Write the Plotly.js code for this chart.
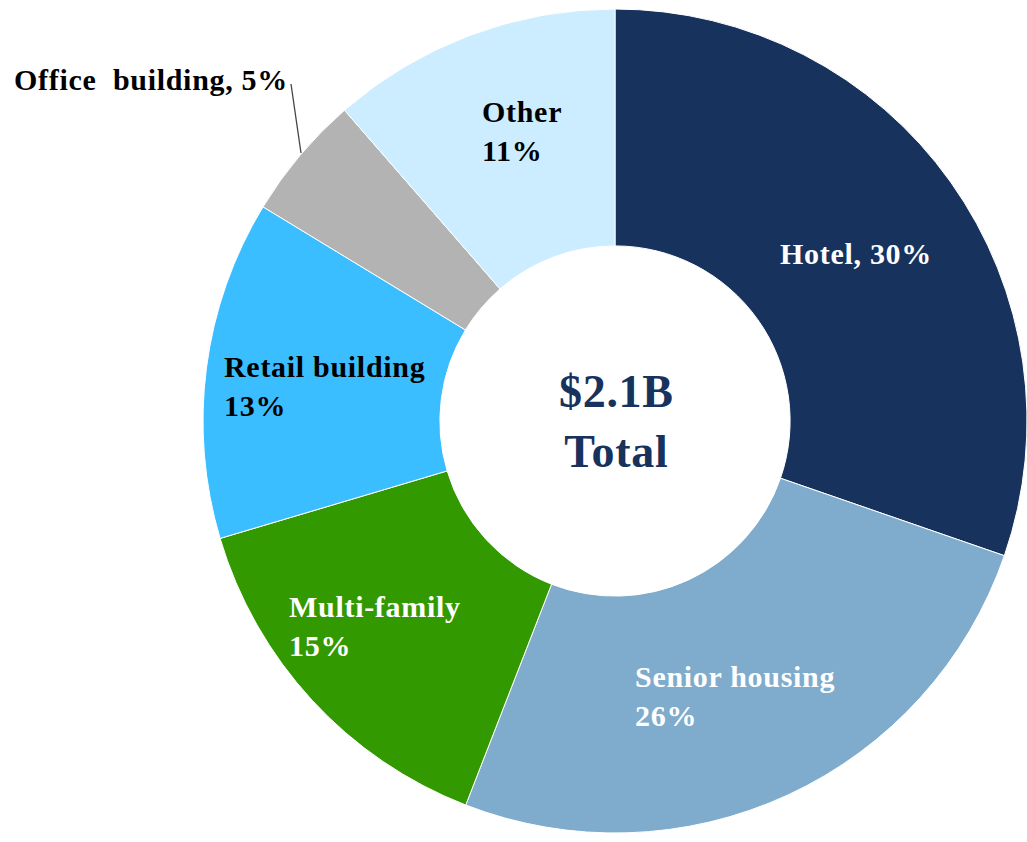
<!DOCTYPE html>
<html>
<head>
<meta charset="utf-8">
<script src="https://cdn.plot.ly/plotly-3.0.1.min.js"></script>
<style>html,body{margin:0;padding:0;background:#fff;}#chart{width:1027px;height:842px;}
.annotation-text{letter-spacing:0.7px;}</style>
</head>
<body>
<div id="chart"></div>
<script>
const categories = ["Hotel", "Senior housing", "Multi-family", "Retail building", "Office building", "Other"];
const shares = [30.3, 25.6, 14.5, 13.3, 4.9, 11.4];
const labelTexts = ["Hotel, 30%", "Senior housing<br>26%", "Multi-family<br>15%", "Retail building<br>13%", "Office  building, 5%", "Other<br>11%"];
const centerText = "$2.1B<br>Total";

const sliceColors = ["#17325C", "#7FACCC", "#339900", "#3BBEFF", "#B3B3B3", "#CCECFF"];
const labelColors = ["#FFFFFF", "#FFFFFF", "#FFFFFF", "#000000", "#000000", "#000000"];
// label anchor positions in pixels (left x, middle y)
const labelPos = [[778, 253], [633, 696], [287, 626], [222, 386], [12, 80], [480, 131]];

const W = 1027, H = 842;
const font = "'Liberation Serif', 'Times New Roman', serif";

const annotations = labelTexts.map((t, i) => ({
  text: "<b>" + t + "</b>",
  x: labelPos[i][0] / W, y: 1 - labelPos[i][1] / H,
  xref: "paper", yref: "paper", xanchor: "left", yanchor: "middle", align: "left",
  showarrow: false,
  font: {family: font, size: 30, color: labelColors[i]}
}));
annotations.push({
  text: "<b>" + centerText + "</b>",
  x: 616 / W, y: 1 - 421 / H, xref: "paper", yref: "paper",
  xanchor: "center", yanchor: "middle", showarrow: false,
  font: {family: font, size: 46, color: "#17325C"}
});

Plotly.newPlot("chart", [{
  type: "pie",
  labels: categories,
  values: shares,
  sort: false,
  direction: "clockwise",
  rotation: 0,
  hole: 0.425,
  textinfo: "none",
  hoverinfo: "label+percent",
  marker: {colors: sliceColors, line: {color: "#FFFFFF", width: 1}},
  domain: {x: [203 / W, 1], y: [9 / H, 833 / H]}
}], {
  width: W, height: H,
  margin: {l: 0, r: 0, t: 0, b: 0},
  paper_bgcolor: "#FFFFFF",
  showlegend: false,
  annotations: annotations,
  shapes: [{
    type: "line", xref: "paper", yref: "paper",
    x0: 291 / W, y0: 1 - 84 / H, x1: 301 / W, y1: 1 - 153 / H,
    line: {color: "#444444", width: 1.3}
  }]
}, {displayModeBar: false});
</script>
</body>
</html>
